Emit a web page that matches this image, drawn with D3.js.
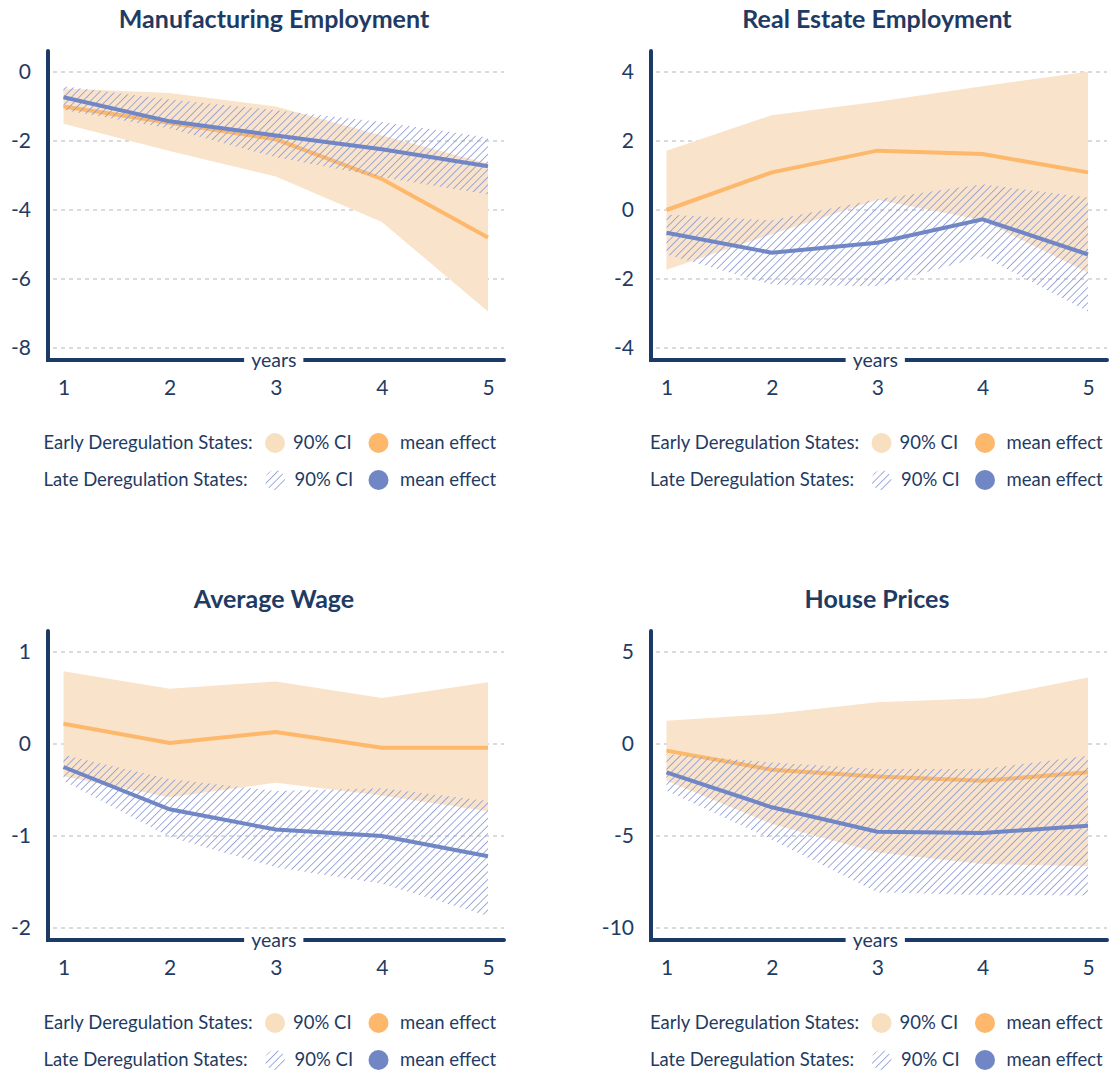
<!DOCTYPE html>
<html>
<head>
<meta charset="utf-8">
<script src="https://cdn.jsdelivr.net/npm/d3@7"></script>
<style>
  html, body { margin: 0; padding: 0; background: #fff; }
  svg { display: block; font-family: Lato, "Noto Sans", sans-serif; }
</style>
</head>
<body>
<svg id="chart" width="1113" height="1074"></svg>
<script>
// ---------- data ----------
const years = [1, 2, 3, 4, 5];

const titles = ["Manufacturing Employment", "Real Estate Employment", "Average Wage", "House Prices"];

const mfgTicks = [0, -2, -4, -6, -8];
const mfgEarlyMean = [-1.0, -1.47, -1.95, -3.1, -4.8];
const mfgEarlyLow  = [-1.5, -2.29, -3.03, -4.35, -6.94];
const mfgEarlyHigh = [-0.48, -0.61, -1.0, -1.84, -2.65];
const mfgLateMean  = [-0.73, -1.43, -1.84, -2.24, -2.73];
const mfgLateLow   = [-1.1, -1.64, -2.47, -3.05, -3.55];
const mfgLateHigh  = [-0.41, -0.8, -1.11, -1.45, -1.9];

const reTicks = [4, 2, 0, -2, -4];
const reEarlyMean = [0.0, 1.09, 1.72, 1.62, 1.09];
const reEarlyLow  = [-1.73, -0.7, 0.3, -0.3, -1.82];
const reEarlyHigh = [1.72, 2.75, 3.14, 3.59, 4.01];
const reLateMean  = [-0.66, -1.24, -0.95, -0.27, -1.29];
const reLateLow   = [-1.29, -2.16, -2.21, -1.34, -2.94];
const reLateHigh  = [-0.13, -0.3, 0.31, 0.75, 0.36];

const awTicks = [1, 0, -1, -2];
const awEarlyMean = [0.22, 0.01, 0.13, -0.04, -0.04];
const awEarlyLow  = [-0.35, -0.58, -0.42, -0.56, -0.73];
const awEarlyHigh = [0.79, 0.6, 0.68, 0.5, 0.67];
const awLateMean  = [-0.25, -0.71, -0.93, -1.0, -1.22];
const awLateLow   = [-0.4, -1.01, -1.34, -1.52, -1.87];
const awLateHigh  = [-0.12, -0.38, -0.51, -0.48, -0.62];

const hpTicks = [5, 0, -5, -10];
const hpEarlyMean = [-0.36, -1.4, -1.76, -2.0, -1.54];
const hpEarlyLow  = [-2.0, -4.35, -5.89, -6.52, -6.65];
const hpEarlyHigh = [1.27, 1.63, 2.27, 2.48, 3.62];
const hpLateMean  = [-1.54, -3.44, -4.77, -4.84, -4.44];
const hpLateLow   = [-2.54, -5.2, -8.06, -8.2, -8.24];
const hpLateHigh  = [-0.54, -1.0, -1.36, -1.36, -0.64];

const legendEarly = "Early Deregulation States:";
const legendLate  = "Late Deregulation States:";
const legendCI = "90% CI";
const legendMean = "mean effect";
const xLabel = "years";

// ---------- styles ----------
const C = {
  text: "#1f3b63",
  axis: "#1c3a66",
  grid: "#cfcfcf",
  orangeFill: "#f9e3ca",
  orangeLine: "#fdb86b",
  blueLine: "#7186c4",
  hatch: "#8f9dd6"
};
const FONT = "Lato, 'Noto Sans', sans-serif";

const svg = d3.select("#chart");
const defs = svg.append("defs");
const pat = defs.append("pattern")
  .attr("id", "hatch")
  .attr("patternUnits", "userSpaceOnUse")
  .attr("width", 5.4).attr("height", 5.4)
  .attr("patternTransform", "rotate(45)");
pat.append("line")
  .attr("x1", 0).attr("y1", 0).attr("x2", 0).attr("y2", 5.4)
  .attr("stroke", C.hatch).attr("stroke-width", 1.7);

const panels = [
  { title: titles[0], ticks: mfgTicks, em: mfgEarlyMean, el: mfgEarlyLow, eh: mfgEarlyHigh, lm: mfgLateMean, ll: mfgLateLow, lh: mfgLateHigh, col: 0, row: 0 },
  { title: titles[1], ticks: reTicks, em: reEarlyMean, el: reEarlyLow, eh: reEarlyHigh, lm: reLateMean, ll: reLateLow, lh: reLateHigh, col: 1, row: 0 },
  { title: titles[2], ticks: awTicks, em: awEarlyMean, el: awEarlyLow, eh: awEarlyHigh, lm: awLateMean, ll: awLateLow, lh: awLateHigh, col: 0, row: 1 },
  { title: titles[3], ticks: hpTicks, em: hpEarlyMean, el: hpEarlyLow, eh: hpEarlyHigh, lm: hpLateMean, ll: hpLateLow, lh: hpLateHigh, col: 1, row: 1 }
];

const cols = [
  { axisX: 48, x1: 63.5, x5: 488, end: 504, legendDx: 0 },
  { axisX: 651, x1: 666.5, x5: 1088, end: 1107, legendDx: 606.5 }
];
const rowsY = [0, 580];

panels.forEach(p => {
  const c = cols[p.col];
  const oy = rowsY[p.row];
  const g = svg.append("g").attr("transform", `translate(0,${oy})`);

  const x = d3.scaleLinear().domain([1, 5]).range([c.x1, c.x5]);
  const y = d3.scaleLinear().domain([d3.min(p.ticks), d3.max(p.ticks)]).range([348, 72]);

  // title
  g.append("text")
    .attr("x", c.axisX + 226).attr("y", 28)
    .attr("text-anchor", "middle")
    .attr("font-size", 25).attr("font-weight", 700)
    .attr("fill", C.text)
    .text(p.title);

  // gridlines
  g.append("g").selectAll("line").data(p.ticks).join("line")
    .attr("x1", c.axisX + 5).attr("x2", c.end)
    .attr("y1", d => y(d)).attr("y2", d => y(d))
    .attr("stroke", C.grid).attr("stroke-width", 1.4)
    .attr("stroke-dasharray", "4,4");

  const idx = years.map((d, i) => i);

  // early CI band
  const areaE = d3.area().x(i => x(years[i])).y0(i => y(p.el[i])).y1(i => y(p.eh[i]));
  g.append("path").datum(idx).attr("d", areaE).attr("fill", C.orangeFill);

  // early mean line
  const lineE = d3.line().x(i => x(years[i])).y(i => y(p.em[i]));
  g.append("path").datum(idx).attr("d", lineE)
    .attr("fill", "none").attr("stroke", C.orangeLine).attr("stroke-width", 4);

  // late CI band (hatched)
  const areaL = d3.area().x(i => x(years[i])).y0(i => y(p.ll[i])).y1(i => y(p.lh[i]));
  g.append("path").datum(idx).attr("d", areaL).attr("fill", "url(#hatch)");

  // late mean line
  const lineL = d3.line().x(i => x(years[i])).y(i => y(p.lm[i]));
  g.append("path").datum(idx).attr("d", lineL)
    .attr("fill", "none").attr("stroke", C.blueLine).attr("stroke-width", 4);

  // y axis labels
  const yAxis = d3.axisLeft(y).tickValues(p.ticks).tickSize(0).tickPadding(0)
    .tickFormat(d3.format("d"));
  const ya = g.append("g").attr("transform", `translate(${c.axisX - 17},0)`).call(yAxis);
  ya.select(".domain").remove();
  ya.selectAll("text").attr("font-size", 21).attr("fill", C.text)
    .attr("font-family", FONT).text(d => String(d));

  // x axis labels
  const xAxis = d3.axisBottom(x).tickValues(years).tickSize(0).tickPadding(0).tickFormat(d3.format("d"));
  const xa = g.append("g").attr("transform", `translate(0,380)`).call(xAxis);
  xa.select(".domain").remove();
  xa.selectAll("text").attr("font-size", 21).attr("fill", C.text)
    .attr("font-family", FONT);

  // axis lines
  g.append("path")
    .attr("d", `M${c.axisX},51 L${c.axisX},360 L${c.end},360`)
    .attr("fill", "none").attr("stroke", C.axis).attr("stroke-width", 4)
    .attr("stroke-linecap", "round").attr("stroke-linejoin", "miter");

  // "years" label with gap in axis
  const xm = (c.x1 + c.x5) / 2 - 2;
  const gapRect = g.append("rect").attr("fill", "#fff");
  const yl = g.append("text")
    .attr("x", xm).attr("y", 367)
    .attr("text-anchor", "middle")
    .attr("font-size", 19.5).attr("fill", C.text)
    .text(xLabel);
  const bb = yl.node().getBBox();
  gapRect.attr("x", bb.x - 7).attr("y", 355).attr("width", bb.width + 14).attr("height", 10);

  // legend
  const lg = g.append("g").attr("transform", `translate(${c.legendDx},0)`);
  const rowY = [443, 480];
  const fs = 18.5;
  lg.append("text").attr("x", 43.5).attr("y", rowY[0]).attr("dy", "0.35em")
    .attr("font-size", fs).attr("fill", C.text).text(legendEarly);
  lg.append("text").attr("x", 43.5).attr("y", rowY[1]).attr("dy", "0.35em")
    .attr("font-size", fs).attr("fill", C.text).text(legendLate);
  lg.append("circle").attr("cx", 275).attr("cy", rowY[0]).attr("r", 10).attr("fill", "#f8dfc0");
  lg.append("circle").attr("cx", 275).attr("cy", rowY[1]).attr("r", 10).attr("fill", "url(#hatch)");
  lg.append("text").attr("x", 293).attr("y", rowY[0]).attr("dy", "0.35em")
    .attr("font-size", fs).attr("fill", C.text).text(legendCI);
  lg.append("text").attr("x", 294.5).attr("y", rowY[1]).attr("dy", "0.35em")
    .attr("font-size", fs).attr("fill", C.text).text(legendCI);
  lg.append("circle").attr("cx", 378.5).attr("cy", rowY[0]).attr("r", 10).attr("fill", C.orangeLine);
  lg.append("circle").attr("cx", 378.5).attr("cy", rowY[1]).attr("r", 10).attr("fill", C.blueLine);
  lg.append("text").attr("x", 400).attr("y", rowY[0]).attr("dy", "0.35em")
    .attr("font-size", fs).attr("fill", C.text).text(legendMean);
  lg.append("text").attr("x", 400).attr("y", rowY[1]).attr("dy", "0.35em")
    .attr("font-size", fs).attr("fill", C.text).text(legendMean);
});
</script>
</body>
</html>
